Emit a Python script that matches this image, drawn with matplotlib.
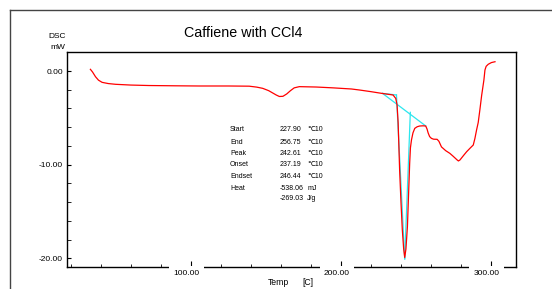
import matplotlib
matplotlib.use("Agg")
import matplotlib.pyplot as plt
from matplotlib.lines import Line2D
from matplotlib.transforms import ScaledTranslation
import numpy as np

# ---- data ----
temp = [33.1, 34.5, 36.5, 38.5, 40.9, 45, 49.9, 60, 72.1, 90, 105.6, 125, 139, 144, 148,
        152, 157, 159.1, 161.5, 164, 166.5, 169, 172.4, 183.7, 195, 207.2, 212.6, 220,
        227.1, 231, 234.9, 236.7, 237.6, 238.3, 239.3, 240.2, 241.1, 242.0, 242.7, 243.5,
        244.5, 245.3, 246, 246.5, 247.2, 248.2, 249.4, 251, 252.7, 255, 256.7, 257.6,
        258.3, 259.3, 260.5, 262, 264.3, 265.5, 267.2, 270, 272.8, 275, 277.7, 278.5,
        279.5, 282, 284, 286.5, 288.4, 289.5, 290.6, 291.7, 292.8, 294, 295.5, 296.2,
        297, 298.4, 300.5, 302.9]
dsc = [0.18, -0.1, -0.61, -0.98, -1.21, -1.34, -1.42, -1.5, -1.55, -1.58, -1.6, -1.6,
       -1.62, -1.72, -1.85, -2.1, -2.56, -2.72, -2.7, -2.45, -2.1, -1.8, -1.67, -1.71,
       -1.8, -1.92, -2.03, -2.2, -2.38, -2.47, -2.56, -2.92, -3.63, -5.5, -10.57, -14.0,
       -16.97, -19.0, -19.9, -19.0, -16.6, -13.0, -9.85, -8.2, -7.36, -6.6, -6.12, -5.95,
       -5.87, -5.85, -5.87, -6.2, -6.6, -7.0, -7.19, -7.28, -7.29, -7.5, -8.1, -8.5,
       -8.79, -9.1, -9.5, -9.6, -9.5, -9.0, -8.61, -8.2, -7.9, -7.2, -6.3, -5.5, -4.16,
       -2.6, -0.96, 0.11, 0.5, 0.72, 0.9, 0.99]

# analysis construction lines (cyan)
baseline_x = [227.90, 256.75]
baseline_y = [-2.39, -5.87]
start_seg_x = [227.90, 237.19]
start_seg_y = [-2.39, -2.56]
onset_tan_x = [237.19, 242.70]
onset_tan_y = [-2.56, -20.05]
endset_tan_x = [246.44, 242.70]
endset_tan_y = [-4.41, -20.05]

row_labels = ["Start", "End", "Peak", "Onset", "Endset", "Heat", ""]
row_values = ["227.90", "256.75", "242.61", "237.19", "246.44", "-538.06", "-269.03"]
row_units = ["\u210310", "\u210310", "\u210310", "\u210310", "\u210310", "mJ", "J/g"]

xticks_major = [100, 200, 300]
xtick_labels = ["100.00", "200.00", "300.00"]
yticks_major = [0, -10, -20]
ytick_labels = ["0.00", "-10.00", "-20.00"]

title = "Caffiene with CCl4"

# ---- figure ----
W, H = 552, 289
plt.rcParams['font.family'] = ['Liberation Sans', 'DejaVu Sans']
fig = plt.figure(figsize=(W / 100, H / 100), dpi=100)

def fx(px):
    return px / W

def fy(py):
    return 1 - py / H

L, R, T, B = 67, 516, 51.7, 267.3
ax = fig.add_axes([fx(L), fy(B), fx(R) - fx(L), fy(T) - fy(B)])

ax.plot(temp, dsc, color='#ff0000', lw=0.9, zorder=3)
cy = '#2ce6ee'
for xs, ys in [(baseline_x, baseline_y), (start_seg_x, start_seg_y),
               (onset_tan_x, onset_tan_y), (endset_tan_x, endset_tan_y)]:
    ax.plot(xs, ys, color=cy, lw=0.9, zorder=2.8)

ax.set_xlim(17.5, 316.9)
ax.set_ylim(-20.95, 2.06)

ax.set_xticks(xticks_major)
ax.set_xticklabels(xtick_labels)
ax.set_xticks(np.arange(20, 317, 20), minor=True)
ax.set_yticks(yticks_major)
ax.set_yticklabels(ytick_labels)
ax.set_yticks(np.arange(-20, 2.1, 2), minor=True)

ax.tick_params(axis='both', which='both', direction='in', labelsize=6, color='black')
ax.tick_params(axis='x', which='major', length=4, pad=2.2)
ax.tick_params(axis='x', which='minor', length=2.5)
ax.tick_params(axis='y', which='major', length=3, pad=3)
ax.tick_params(axis='y', which='minor', length=3)

for s in ax.spines.values():
    s.set_linewidth(1.0)
    s.set_color('black')

ax.xaxis.set_zorder(3.5)
off = ScaledTranslation(-4 / 100, 0, fig.dpi_scale_trans)
for lab in ax.get_xticklabels():
    lab.set_bbox(dict(boxstyle='square,pad=0.5', fc='white', ec='none'))
    lab.set_transform(lab.get_transform() + off)

# title and axis labels
fig.text(fx(243), fy(33.3), title, fontsize=10.3, ha='center', va='center')
fig.text(fx(57.5), fy(36.7), "DSC", fontsize=6, ha='center', va='center')
fig.text(fx(57.5), fy(47.7), "mW", fontsize=6, ha='center', va='center')
fig.text(fx(278.5), fy(282.3), "Temp", fontsize=6.2, ha='center', va='center')
fig.text(fx(307.5), fy(282.3), "[C]", fontsize=6.2, ha='center', va='center')

# results table
rows_y = [129.3, 142, 153.3, 164.3, 176, 188.3, 199]
for yy, lab, val, unit in zip(rows_y, row_labels, row_values, row_units):
    if lab:
        fig.text(fx(230), fy(yy), lab, fontsize=5, ha='left', va='center')
    fig.text(fx(279.3), fy(yy), val, fontsize=5, ha='left', va='center')
    fig.text(fx(307.3), fy(yy), unit, fontsize=5, ha='left', va='center')

# outer frame
fc = '#444444'
fig.add_artist(Line2D([fx(10), fx(10)], [fy(10), fy(289)], color=fc, lw=1.0))
fig.add_artist(Line2D([fx(10), fx(552)], [fy(10), fy(10)], color=fc, lw=1.0))

fig.savefig("out.png", dpi=100)
